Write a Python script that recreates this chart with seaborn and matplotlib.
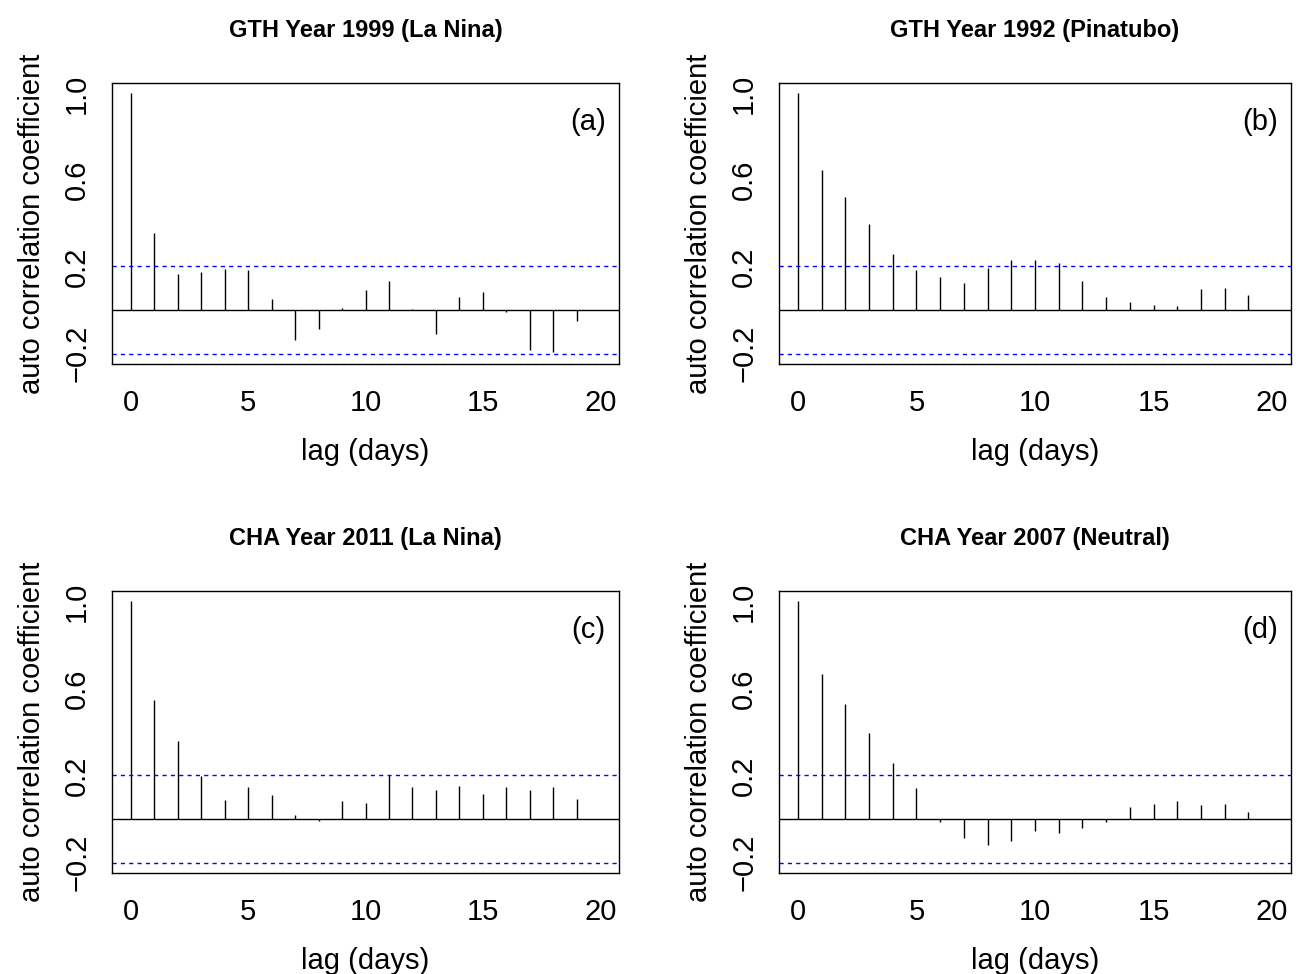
import numpy as np
import pandas as pd
import matplotlib
matplotlib.use("Agg")
import matplotlib.pyplot as plt
import seaborn as sns

lags = list(range(20))

acf_a = [1.0, 0.355, 0.166, 0.178, 0.192, 0.186, 0.051, -0.138, -0.085, 0.011,
         0.094, 0.137, 0.006, -0.108, 0.063, 0.085, -0.009, -0.185, -0.192, -0.049]
acf_b = [1.0, 0.648, 0.523, 0.400, 0.260, 0.185, 0.155, 0.126, 0.195, 0.231,
         0.232, 0.218, 0.137, 0.060, 0.040, 0.025, 0.020, 0.098, 0.103, 0.072]
acf_c = [1.0, 0.548, 0.358, 0.198, 0.089, 0.147, 0.109, 0.018, -0.008, 0.083,
         0.075, 0.204, 0.149, 0.134, 0.154, 0.117, 0.147, 0.135, 0.146, 0.094]
acf_d = [1.0, 0.668, 0.527, 0.396, 0.257, 0.144, -0.012, -0.089, -0.120, -0.103,
         -0.055, -0.066, -0.040, -0.015, 0.055, 0.071, 0.081, 0.063, 0.069, 0.031]

titles = ["GTH Year 1999 (La Nina)", "GTH Year 1992 (Pinatubo)",
          "CHA Year 2011 (La Nina)", "CHA Year 2007 (Neutral)"]
panel_tags = ["(a)", "(b)", "(c)", "(d)"]
conf_limit = 0.204
xtick_vals = [0, 5, 10, 15, 20]
ytick_vals = [-0.2, 0.0, 0.2, 0.4, 0.6, 0.8, 1.0]
ytick_labels = ["\u22120.2", "", "0.2", "", "0.6", "", "1.0"]

sns.set_theme(style="white")
plt.rcParams['font.family'] = ['Liberation Sans', 'DejaVu Sans']
plt.rcParams['text.color'] = 'black'
plt.rcParams['axes.labelcolor'] = 'black'
plt.rcParams['xtick.color'] = 'black'
plt.rcParams['ytick.color'] = 'black'

W, H = 1296, 974
fig = plt.figure(figsize=(W / 100, H / 100), dpi=100)

boxes = [(112, 619, 83, 364), (779, 1291, 83, 364),
         (112, 619, 591, 873), (779, 1291, 591, 873)]
series = [acf_a, acf_b, acf_c, acf_d]

for (l, r, t, b), vals, title, tag in zip(boxes, series, titles, panel_tags):
    ax = fig.add_axes([l / W, (H - b) / H, (r - l) / W, (b - t) / H])
    df = pd.DataFrame({"lag": lags, "acf": vals})
    ax.vlines(df["lag"], 0, df["acf"], color="black", lw=1.0)
    ax.axhline(0, color="black", lw=1.0)
    ax.axhline(conf_limit, color="blue", lw=1.0, ls=(0, (3, 3)))
    ax.axhline(-conf_limit, color="blue", lw=1.0, ls=(0, (3, 3)))
    ax.set_xlim(-0.8, 20.8)
    ax.set_ylim(-0.248, 1.048)
    ax.set_xticks(xtick_vals)
    ax.set_xticklabels([str(v) for v in xtick_vals], fontsize=21)
    ax.set_yticks(ytick_vals)
    ax.set_yticklabels(ytick_labels, fontsize=21, rotation=90, va="center")
    ax.tick_params(axis="both", direction="out", length=9, width=1.0,
                   color="black", pad=6, labelcolor="black")
    ax.tick_params(axis="x", pad=9)
    for sp in ax.spines.values():
        sp.set_color("black")
        sp.set_linewidth(1.0)
    ax.set_xlabel("lag (days)", fontsize=21, labelpad=15)
    ax.set_ylabel("auto correlation coefficient", fontsize=21, labelpad=12)
    ax.set_title(title, fontsize=17, fontweight="bold", pad=33)
    ax.text(0.939, 0.861, tag, transform=ax.transAxes, fontsize=21,
            ha="center", va="center")

fig.savefig("out.png", dpi=100)
